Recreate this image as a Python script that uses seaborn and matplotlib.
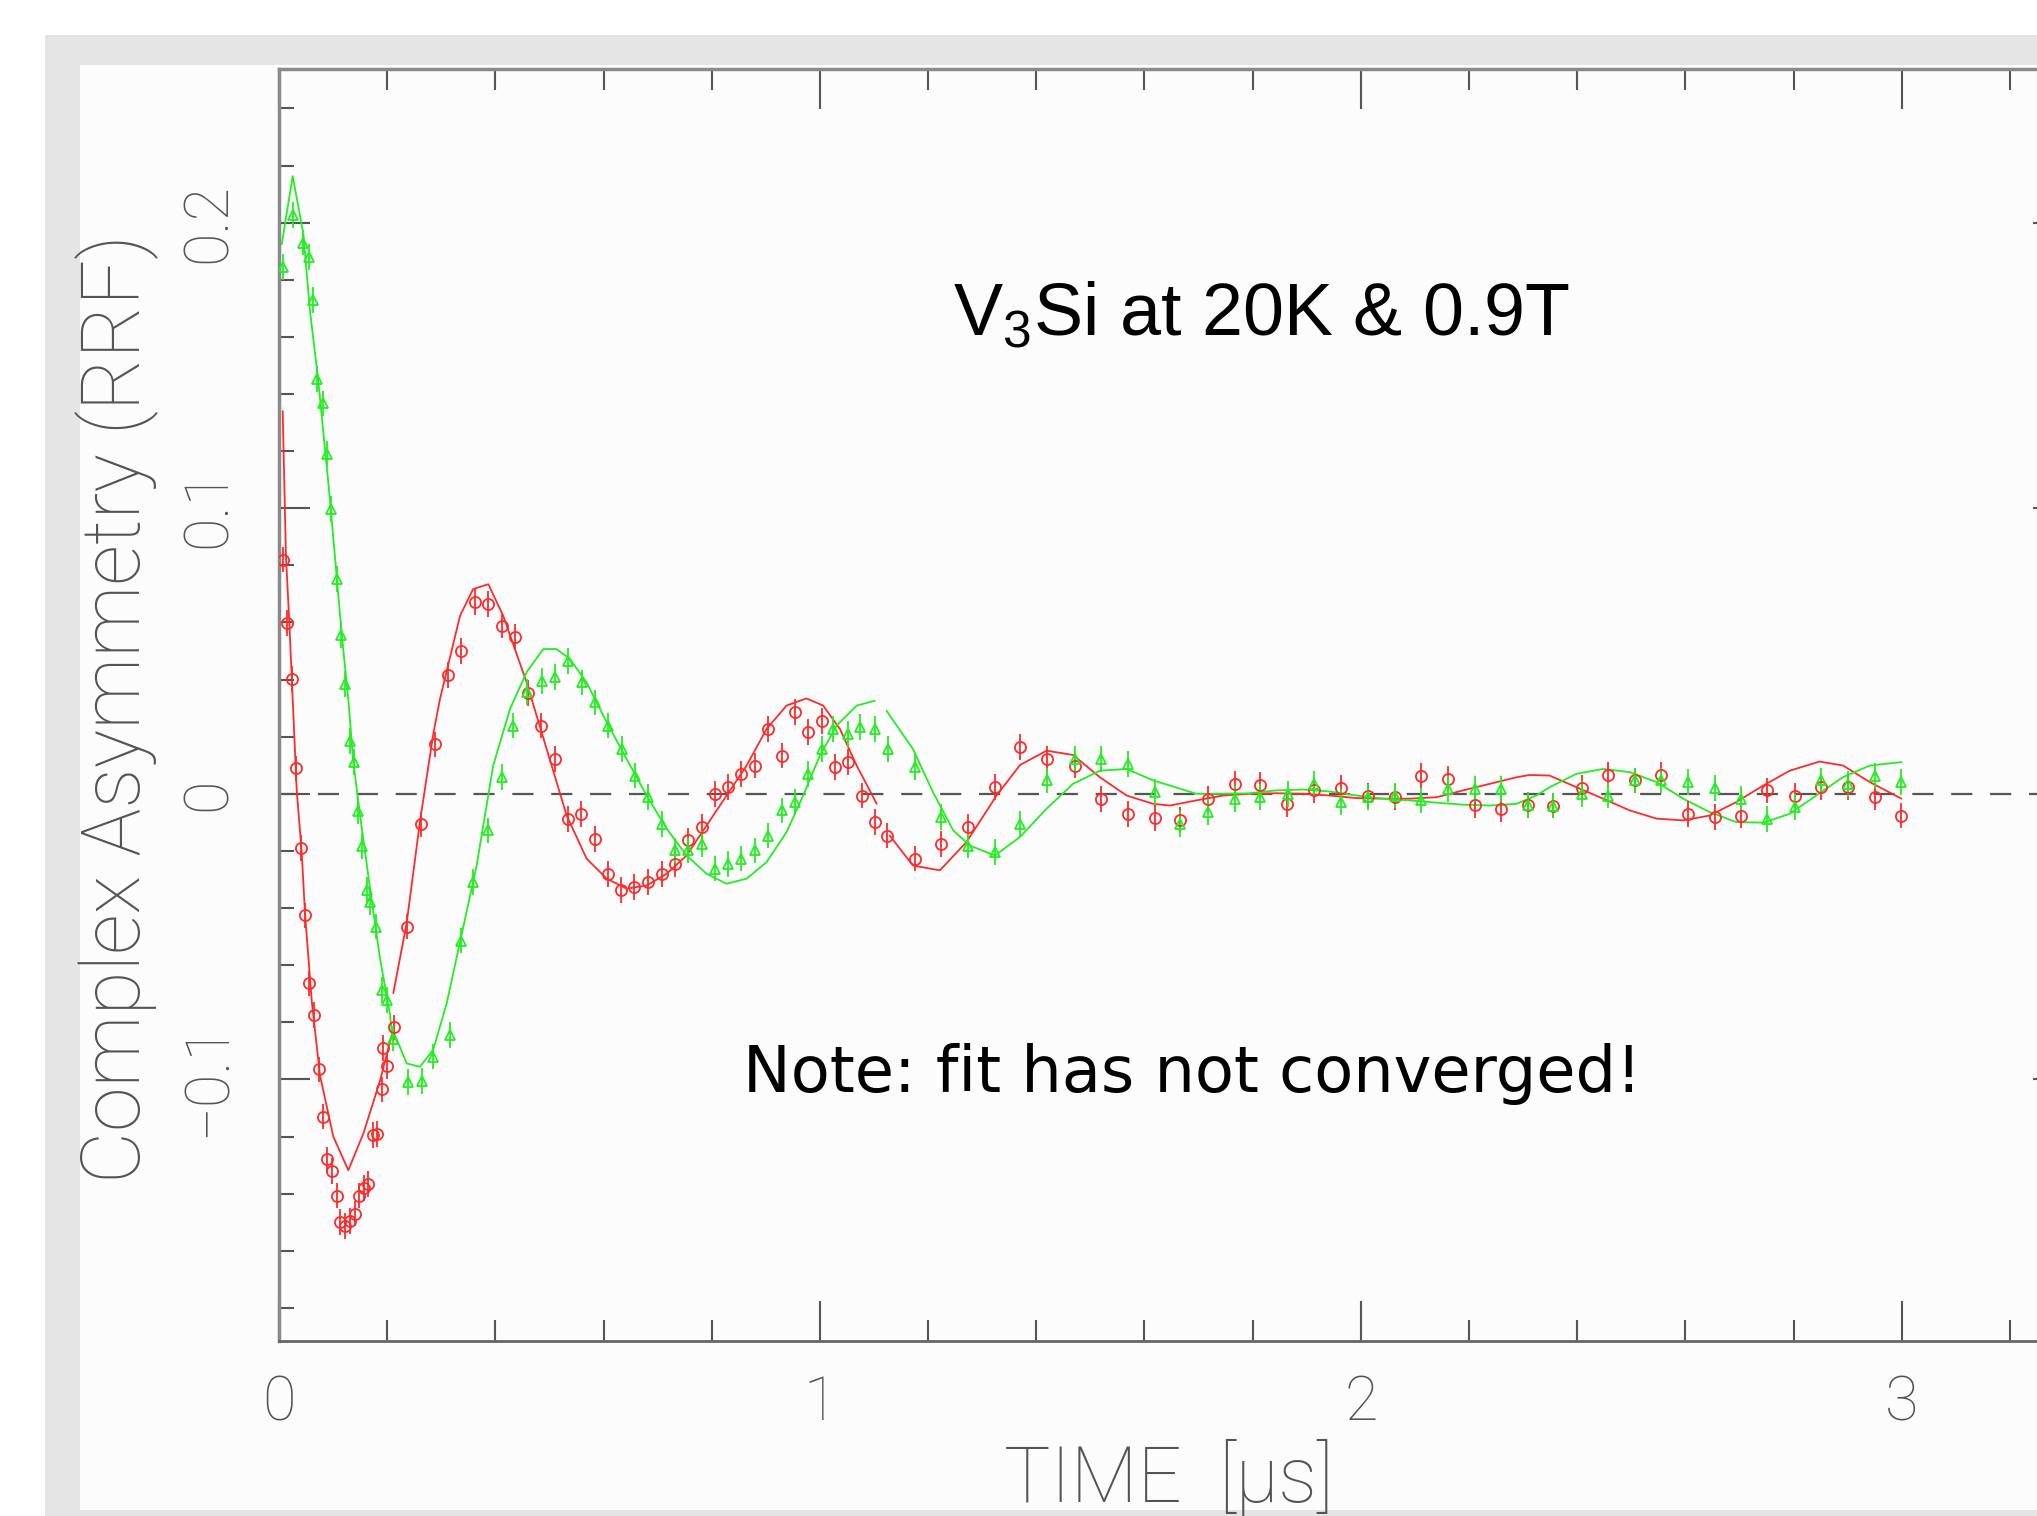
import matplotlib
matplotlib.use("Agg")
import matplotlib.pyplot as plt
from matplotlib.patches import Rectangle
from matplotlib.ticker import MultipleLocator
import pandas as pd
import seaborn as sns

# ── data (time in µs, asymmetry in RRF) ───────────────────────────────────────
# real part (red) data points
re_t = [0.0068, 0.0154, 0.0234, 0.0314, 0.040, 0.0475, 0.056, 0.0647, 0.0739, 0.082,
        0.0894, 0.0974, 0.1066, 0.1128, 0.122, 0.1312, 0.1405, 0.1485, 0.1571, 0.1651,
        0.1731, 0.1805, 0.1898, 0.1928, 0.2002, 0.2126, 0.236, 0.2625, 0.2884, 0.313,
        0.3358, 0.3623, 0.387, 0.4116, 0.4362, 0.4597, 0.4843, 0.510, 0.5348, 0.5577,
        0.584, 0.6087, 0.632, 0.6568, 0.6827, 0.7074, 0.732, 0.7566, 0.7813, 0.806,
        0.8305, 0.855, 0.880, 0.9045, 0.929, 0.954, 0.978, 1.003, 1.0277, 1.0523,
        1.077, 1.1017, 1.1245, 1.1756, 1.2247, 1.274, 1.3235, 1.370, 1.419, 1.4713,
        1.520, 1.570, 1.619, 1.6654, 1.7178, 1.767, 1.813, 1.8627, 1.913, 1.964,
        2.0135, 2.063, 2.112, 2.161, 2.211, 2.26, 2.309, 2.3556, 2.408, 2.457,
        2.5065, 2.5558, 2.605, 2.654, 2.7037, 2.751, 2.802, 2.8515, 2.9008, 2.950,
        2.9995]
re_a = [0.082, 0.0597, 0.0403, 0.0089, -0.0189, -0.0426, -0.0664, -0.0775, -0.0965, -0.113,
        -0.128, -0.132, -0.1407, -0.150, -0.1514, -0.1496, -0.147, -0.1407, -0.138, -0.1367,
        -0.1195, -0.119, -0.1035, -0.089, -0.0954, -0.0818, -0.0465, -0.0107, 0.0173, 0.0416,
        0.050, 0.0672, 0.0664, 0.0589, 0.0548, 0.0353, 0.0239, 0.0122, -0.0087, -0.007,
        -0.0157, -0.028, -0.0338, -0.0326, -0.0309, -0.028, -0.0245, -0.0163, -0.0117, 0.0,
        0.0023, 0.007, 0.0099, 0.0227, 0.0134, 0.0286, 0.0216, 0.0256, 0.0093, 0.0111,
        -0.0006, -0.0099, -0.0146, -0.0227, -0.0175, -0.0117, 0.0023, 0.0163, 0.0122, 0.0099,
        -0.0017, -0.007, -0.0085, -0.009, -0.0017, 0.0035, 0.0031, -0.0035, 0.0012, 0.002,
        -0.0006, -0.0012, 0.0064, 0.0052, -0.0038, -0.0052, -0.0038, -0.0041, 0.002, 0.0066,
        0.0047, 0.0066, -0.007, -0.0082, -0.0076, 0.0012, -0.0006, 0.0023, 0.0023, -0.0012,
        -0.0076]

# imaginary part (green) data points
im_t = [0.008, 0.0253, 0.045, 0.056, 0.0634, 0.0708, 0.082, 0.088, 0.0961, 0.1066,
        0.1146, 0.122, 0.1312, 0.1386, 0.1466, 0.1528, 0.1633, 0.1682, 0.1793, 0.1898,
        0.199, 0.2113, 0.239, 0.2637, 0.2853, 0.316, 0.3358, 0.359, 0.387, 0.4116,
        0.433, 0.4578, 0.4855, 0.510, 0.5348, 0.5595, 0.584, 0.6087, 0.6335, 0.658,
        0.6827, 0.7074, 0.732, 0.7566, 0.7813, 0.806, 0.8305, 0.855, 0.880, 0.9045,
        0.929, 0.954, 0.978, 1.003, 1.0246, 1.0523, 1.075, 1.1017, 1.1263, 1.1756,
        1.2247, 1.274, 1.3235, 1.370, 1.419, 1.4713, 1.520, 1.570, 1.619, 1.6654,
        1.7178, 1.767, 1.813, 1.8656, 1.913, 1.964, 2.0135, 2.063, 2.112, 2.161,
        2.211, 2.26, 2.309, 2.3556, 2.408, 2.457, 2.5065, 2.5558, 2.605, 2.654,
        2.7037, 2.7514, 2.802, 2.8515, 2.9008, 2.950, 2.9995]
im_a = [0.1845, 0.2028, 0.193, 0.188, 0.1728, 0.1452, 0.1367, 0.119, 0.0998, 0.0752,
        0.0556, 0.0385, 0.0185, 0.0112, -0.006, -0.0183, -0.0336, -0.038, -0.0465, -0.0686,
        -0.0723, -0.0857, -0.101, -0.1005, -0.092, -0.0845, -0.0514, -0.0309, -0.0128, 0.0058,
        0.0239, 0.0356, 0.0396, 0.0408, 0.0466, 0.039, 0.032, 0.0239, 0.0157, 0.0064,
        -0.0012, -0.0105, -0.0198, -0.0198, -0.0175, -0.0262, -0.0245, -0.0227, -0.0198, -0.0146,
        -0.0058, -0.0029, 0.007, 0.0157, 0.0227, 0.021, 0.0233, 0.0227, 0.0157, 0.0093,
        -0.0081, -0.0181, -0.0204, -0.0105, 0.0047, 0.0122, 0.0122, 0.0105, 0.0006, -0.0105,
        -0.0064, -0.0017, -0.0012, 0.0, 0.0035, -0.0029, -0.0012, -0.0006, -0.0023, 0.0017,
        0.0017, 0.0017, -0.004, -0.0041, 0.0, -0.0006, 0.0047, 0.0047, 0.0041, 0.002,
        -0.0017, -0.0087, -0.0047, 0.0047, 0.0035, 0.0064, 0.0041]

ERR = 0.0045  # error bar half height, roughly the same for every bin

# fit curves, in pieces (the original plot has small breaks in them)
re_fit_t = [
    [0.0068, 0.0129, 0.0191, 0.0253, 0.0327, 0.042, 0.048, 0.0604, 0.0758, 0.1004,
     0.1281, 0.1559, 0.1867, 0.2083],
    [0.2113, 0.236, 0.2606, 0.2853, 0.2976, 0.3346, 0.359, 0.387, 0.4146, 0.4578,
     0.4948, 0.5318, 0.5687, 0.6057, 0.6427, 0.6796, 0.7166, 0.7536, 0.7905, 0.8275,
     0.8645, 0.9014, 0.9384, 0.975, 1.006, 1.037, 1.068, 1.105],
    [1.129, 1.172, 1.2218, 1.271, 1.3266, 1.370, 1.419, 1.468, 1.5176, 1.567,
     1.616, 1.647, 1.696, 1.7455, 1.795, 1.844, 1.893, 1.9427, 1.992, 2.041,
     2.0906, 2.14, 2.189, 2.2385, 2.288, 2.312, 2.349, 2.3986, 2.448, 2.497,
     2.547, 2.596, 2.645, 2.694, 2.744, 2.793, 2.848, 2.8915, 2.941, 2.9995],
]
re_fit_a = [
    [0.134, 0.083, 0.060, 0.0332, 0.0014, -0.0206, -0.0416, -0.0723, -0.0986, -0.120,
     -0.1318, -0.119, -0.1005, -0.0845],
    [-0.0698, -0.0453, -0.0097, 0.021, 0.0332, 0.0623, 0.0717, 0.0734, 0.0623, 0.039,
     0.0157, -0.0076, -0.0227, -0.0297, -0.0332, -0.0321, -0.028, -0.0216, -0.0111, -0.0006,
     0.0099, 0.0227, 0.0309, 0.0334, 0.0309, 0.0227, 0.0099, -0.0035],
    [-0.0146, -0.0251, -0.0268, -0.0169, -0.0006, 0.0101, 0.0151, 0.0136, 0.0058, -0.0006,
     -0.0035, -0.0041, -0.0023, -0.0006, 0.0, 0.0002, 0.0, -0.0006, -0.0015, -0.0017,
     -0.0017, -0.0012, 0.0012, 0.0035, 0.0058, 0.0066, 0.0064, 0.0023, -0.0017, -0.0058,
     -0.0087, -0.0093, -0.0076, -0.0029, 0.0029, 0.0081, 0.0113, 0.0099, 0.0041, -0.0017],
]
im_fit_t = [
    [0.005, 0.0253, 0.045, 0.0573, 0.0727, 0.0943, 0.1158, 0.1281, 0.1374, 0.1497,
     0.1682, 0.1867, 0.2052, 0.2101],
    [0.2144, 0.236, 0.2606, 0.2853, 0.31, 0.3346, 0.3654, 0.396, 0.427, 0.4578,
     0.4886, 0.513, 0.538, 0.5687, 0.6057, 0.6427, 0.6796, 0.7166, 0.7536, 0.7905,
     0.8275, 0.8645, 0.9014, 0.9384, 0.969, 1.0, 1.031, 1.068, 1.1017],
    [1.123, 1.172, 1.209, 1.2464, 1.277, 1.3235, 1.370, 1.419, 1.468, 1.5176,
     1.567, 1.616, 1.647, 1.696, 1.7455, 1.795, 1.844, 1.893, 1.9427, 1.992,
     2.041, 2.0906, 2.14, 2.189, 2.2385, 2.288, 2.3245, 2.349, 2.3986, 2.448,
     2.497, 2.547, 2.596, 2.645, 2.694, 2.744, 2.793, 2.842, 2.891, 2.941, 2.9995],
]
im_fit_a = [
    [0.1924, 0.2163, 0.1961, 0.1691, 0.1445, 0.1028, 0.0562, 0.0331, 0.0112, -0.0073,
     -0.033, -0.0576, -0.0772, -0.0864],
    [-0.0845, -0.0944, -0.0956, -0.0895, -0.0734, -0.0519, -0.0251, 0.0099, 0.0297, 0.0426,
     0.0507, 0.0507, 0.0472, 0.039, 0.0251, 0.0122, -0.0006, -0.0122, -0.0216, -0.028,
     -0.0315, -0.0297, -0.0239, -0.0134, -0.0006, 0.0134, 0.0239, 0.0309, 0.0326],
    [0.0291, 0.0157, 0.0006, -0.0128, -0.0181, -0.0216, -0.0151, -0.0052, 0.0035, 0.0081,
     0.0087, 0.0047, 0.0029, 0.0, 0.0, 0.0002, 0.0012, 0.0015, 0.0008, -0.0006,
     -0.0017, -0.0023, -0.0031, -0.0038, -0.0041, -0.0035, -0.0006, 0.0023, 0.007, 0.0087,
     0.0076, 0.0041, -0.0017, -0.0064, -0.0099, -0.0101, -0.007, -0.0006, 0.0058, 0.0099,
     0.0111],
]

X_TICKS = [0, 1, 2, 3]
X_TICK_LABELS = ["0", "1", "2", "3"]
Y_TICKS = [-0.1, 0, 0.1, 0.2]
Y_TICK_LABELS = ["\u22120.1", "0", "0.1", "0.2"]

# ── style ─────────────────────────────────────────────────────────────────────
RED = "#ff2b2b"
GREEN = "#22ee22"
AXIS_GREY = "#555555"
LABEL_GREY = "#545454"
THIN_FONT = ["Roboto", "Lato", "DejaVu Sans"]

sns.set_theme(style="ticks")
plt.rcParams["font.family"] = ["DejaVu Sans"]
plt.rcParams["mathtext.fontset"] = "custom"
plt.rcParams["mathtext.rm"] = "Liberation Sans"

W, H, DPI = 2037, 1516, 100
fig = plt.figure(figsize=(W / DPI, H / DPI), dpi=DPI, facecolor="white")


def fx(px):
    return px / W


def fy(py):
    return 1 - py / H


# window-like grey frame around the plot
fig.patches.append(Rectangle((fx(45), 0), 1, fy(35), transform=fig.transFigure,
                             facecolor="#e5e5e5", edgecolor="none", zorder=-2))
fig.patches.append(Rectangle((fx(80), fy(1510)), 1, fy(65) - fy(1510),
                             transform=fig.transFigure, facecolor="#fcfcfc",
                             edgecolor="none", zorder=-1))

# axes run a bit past the right edge of the picture, as in the screenshot
ax = fig.add_axes([fx(279), fy(1341), (2064 - 279) / W, (1341 - 69) / H])
ax.set_facecolor("none")
ax.set_xlim(0, 3.3)
ax.set_ylim(-0.1916, 0.2538)

ax.axhline(0, color="#555555", lw=1.6, ls=(0, (9.5, 8)), zorder=1)

# fit curves
rows = []
for comp, ts, As in (("re", re_fit_t, re_fit_a), ("im", im_fit_t, im_fit_a)):
    for i, (t, a) in enumerate(zip(ts, As)):
        rows.append(pd.DataFrame({"t": t, "A": a, "comp": comp, "seg": f"{comp}{i}"}))
fits = pd.concat(rows, ignore_index=True)
sns.lineplot(data=fits, x="t", y="A", hue="comp", units="seg", estimator=None,
             sort=False, palette={"re": RED, "im": GREEN}, lw=1.3, legend=False,
             ax=ax, zorder=2)

# data points with error bars
ax.errorbar(re_t, re_a, yerr=ERR, fmt="o", ms=8, mfc="none", mec=RED, mew=1.3,
            ecolor=RED, elinewidth=1.3, capsize=0, zorder=3)
ax.errorbar(im_t, im_a, yerr=ERR, fmt="^", ms=7, mfc="none", mec=GREEN, mew=1.3,
            ecolor=GREEN, elinewidth=1.3, capsize=0, zorder=3)

# ticks and spines
ax.set_xticks(X_TICKS, X_TICK_LABELS)
ax.xaxis.set_minor_locator(MultipleLocator(0.2))
ax.set_yticks(Y_TICKS, Y_TICK_LABELS, rotation=90, va="center")
ax.yaxis.set_minor_locator(MultipleLocator(0.02))
ax.tick_params(axis="x", which="major", direction="in", length=29, width=1.5,
               top=True, bottom=True, color=AXIS_GREY, pad=24,
               labelsize=44, labelcolor=LABEL_GREY)
ax.tick_params(axis="x", which="minor", direction="in", length=15, width=1.5,
               top=True, bottom=True, color=AXIS_GREY)
ax.tick_params(axis="y", which="major", direction="in", length=22, width=1.5,
               left=True, right=True, color=AXIS_GREY, pad=30,
               labelsize=44, labelcolor=LABEL_GREY)
ax.tick_params(axis="y", which="minor", direction="in", length=11, width=1.5,
               left=True, right=True, color=AXIS_GREY)
for lab in ax.get_xticklabels() + ax.get_yticklabels():
    lab.set_family(THIN_FONT)
    lab.set_fontweight("light")

for side, sp in ax.spines.items():
    sp.set_color("#8a8a8a")
    sp.set_linewidth(2.5)
ax.spines["bottom"].set_color("#666666")
ax.spines["bottom"].set_linewidth(2.0)

ax.set_xlabel("")
ax.set_ylabel("")
fig.text(fx(117), fy(709), "Complex Asymmetry (RRF)", rotation=90, ha="center",
         va="center", fontsize=58, color=LABEL_GREY, family=THIN_FONT, weight="light")
fig.text(fx(1169), fy(1478), "TIME  [\u03bcs]", ha="center", va="center",
         fontsize=56, color=LABEL_GREY, family=THIN_FONT, weight="light")

# annotations
fig.text(fx(1261), fy(335), r"V$_\mathregular{3}$Si at 20K & 0.9T", ha="center",
         va="baseline", fontsize=53, color="black", family="Liberation Sans")
fig.text(fx(1192), fy(1092), "Note: fit has not converged!", ha="center",
         va="baseline", fontsize=46, color="black", family="DejaVu Sans")

fig.savefig("out.png", dpi=DPI, facecolor=fig.get_facecolor())
